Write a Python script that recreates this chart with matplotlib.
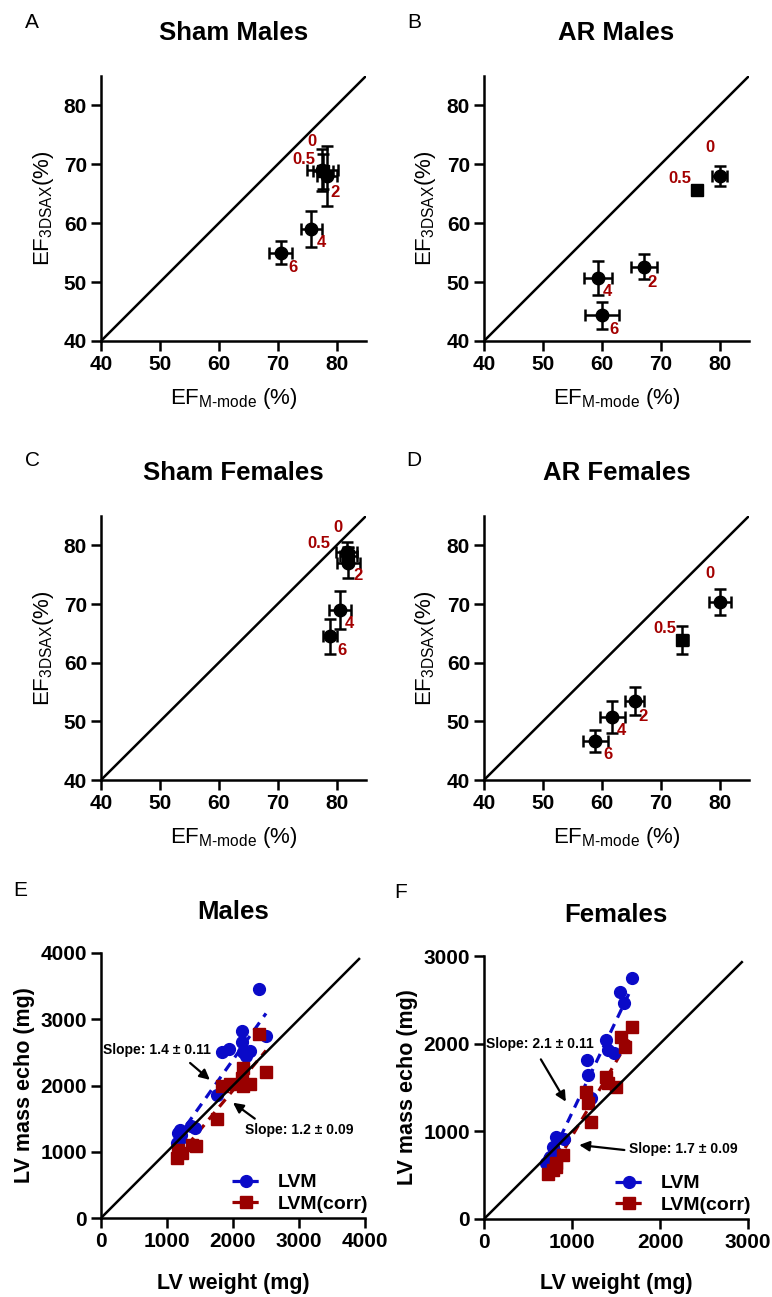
import numpy as np
import matplotlib.pyplot as plt
from matplotlib.lines import Line2D

plt.rcParams['font.family'] = ['Liberation Sans', 'DejaVu Sans']
plt.rcParams['mathtext.fontset'] = 'custom'
plt.rcParams['mathtext.rm'] = 'Liberation Sans'
plt.rcParams['mathtext.it'] = 'Liberation Sans:italic'
plt.rcParams['mathtext.bf'] = 'Liberation Sans:bold'

# ---- EF panels (A-D): time points, EF M-mode (x) vs EF 3DSAX (y), mean +/- SEM
time_labels = ['0', '0.5', '2', '4', '6']
time_markers = ['o', 's', 'o', 'o', 'o']

sham_m_x = [77.6, 77.7, 78.3, 75.7, 70.5]
sham_m_xerr = [2.6, 1.7, 1.7, 1.8, 2.0]
sham_m_y = [69.0, 68.8, 68.0, 59.0, 55.0]
sham_m_yerr = [3.6, 3.0, 5.1, 3.0, 1.9]

ar_m_x = [80.0, 76.2, 67.1, 59.4, 60.0]
ar_m_xerr = [1.2, 0.9, 2.2, 2.4, 2.9]
ar_m_y = [68.0, 65.6, 52.6, 50.7, 44.4]
ar_m_yerr = [1.7, 0.8, 2.1, 2.9, 2.3]

sham_f_x = [81.7, 82.0, 82.0, 80.6, 78.9]
sham_f_xerr = [1.8, 1.5, 2.0, 1.9, 1.2]
sham_f_y = [78.8, 78.2, 77.0, 69.0, 64.5]
sham_f_yerr = [1.8, 1.5, 2.5, 3.3, 3.0]

ar_f_x = [80.1, 73.7, 65.6, 61.8, 58.9]
ar_f_xerr = [1.9, 1.0, 1.6, 2.1, 2.1]
ar_f_y = [70.3, 63.9, 53.5, 50.7, 46.7]
ar_f_yerr = [2.2, 2.4, 2.4, 2.7, 1.9]

# ---- LV mass panels (E-F): LV weight (x) vs LV mass echo (y)
male_lvm_x = [1150, 1170, 1190, 1200, 1210, 1370, 1430, 1750, 1830, 1940,
              2130, 2140, 2150, 2190, 2260, 2390, 2500]
male_lvm_y = [1130, 1280, 1330, 1200, 1250, 1390, 1360, 1860, 2510, 2550,
              2820, 2650, 2500, 2450, 2520, 3460, 2740]
male_corr_x = [1150, 1170, 1220, 1380, 1440, 1750, 1840, 1950, 2150, 2150,
               2140, 2260, 2400, 2500]
male_corr_y = [910, 1020, 980, 1100, 1090, 1490, 2000, 2030, 2260, 1990,
               2120, 2030, 2770, 2200]

female_lvm_x = [703, 740, 745, 779, 817, 817, 911, 1170, 1178, 1215,
                1386, 1405, 1481, 1550, 1595, 1680]
female_lvm_y = [635, 680, 710, 825, 749, 938, 909, 1813, 1642, 1383,
                2040, 1927, 1889, 2590, 2460, 2745]
female_corr_x = [729, 779, 817, 817, 893, 1158, 1178, 1215, 1386, 1405,
                 1500, 1557, 1603, 1679]
female_corr_y = [513, 560, 597, 635, 730, 1452, 1319, 1110, 1623, 1547,
                 1509, 2079, 1965, 2193]

slopes_male = [1.4, 1.2]
slope_err_male = [0.11, 0.09]
slopes_female = [2.1, 1.7]
slope_err_female = [0.11, 0.09]

W, H = 772, 1297
fig = plt.figure(figsize=(W / 100, H / 100), dpi=100)

def px_axes(left, top, right, bottom):
    return fig.add_axes([left / W, 1 - bottom / H, (right - left) / W, (bottom - top) / H])

def ftext(x, y, s, **kw):
    fig.text(x / W, 1 - y / H, s, **kw)

def style(ax):
    for s in ['top', 'right']:
        ax.spines[s].set_visible(False)
    for s in ['left', 'bottom']:
        ax.spines[s].set_linewidth(1.8)
    ax.tick_params(direction='out', length=7, width=1.8, labelsize=15, pad=3)
    for lab in ax.get_xticklabels() + ax.get_yticklabels():
        lab.set_fontweight('bold')

label_red = '#a30000'

def ef_panel(box, x, xerr, y, yerr, offsets, title, letter, letter_xy):
    ax = px_axes(*box)
    ax.plot([40, 85], [40, 85], color='black', lw=1.8, zorder=1)
    for i in range(len(x)):
        ax.errorbar(x[i], y[i], xerr=xerr[i], yerr=yerr[i], fmt=time_markers[i],
                    color='black', ms=9 if time_markers[i] == 'o' else 8,
                    elinewidth=1.8, capsize=4, capthick=1.8, zorder=3)
        ax.text(x[i] + offsets[i][0], y[i] + offsets[i][1], time_labels[i],
                color=label_red, fontsize=12, fontweight='bold',
                ha='center', va='center', zorder=4)
    ax.set_xlim(40, 85)
    ax.set_ylim(40, 85)
    ax.set_xticks([40, 50, 60, 70, 80])
    ax.set_yticks([40, 50, 60, 70, 80])
    style(ax)
    left, top, right, bottom = box
    cx = (left + right) / 2
    ftext(cx, top - 43, title, fontsize=18.5, fontweight='bold', ha='center', va='center')
    ftext(cx, bottom + 58, r'EF$_{\text{M-mode}}$ (%)', fontsize=16, ha='center', va='center')
    ftext(left - 58, (top + bottom) / 2, r'EF$_{\mathregular{3DSAX}}$(%)', fontsize=16,
          rotation=90, ha='center', va='center')
    ftext(letter_xy[0], letter_xy[1], letter, fontsize=15, ha='center', va='center')
    return ax

off_std = [(-1.7, 4.9), (-3.0, 2.0), (1.4, -2.7), (1.6, -2.3), (2.1, -2.4)]
off_a = [(-1.8, 4.9), (-3.2, 2.1), (1.5, -2.8), (1.7, -2.3), (2.1, -2.5)]
off_c = [(-1.5, 4.2), (-5.0, 2.1), (1.6, -2.2), (1.5, -2.3), (1.95, -2.4)]

ef_panel((101, 76, 366, 341), sham_m_x, sham_m_xerr, sham_m_y, sham_m_yerr,
         off_a, 'Sham Males', 'A', (32, 23))
ef_panel((484, 76, 749, 341), ar_m_x, ar_m_xerr, ar_m_y, ar_m_yerr,
         off_std, 'AR Males', 'B', (414, 23))
ef_panel((101, 516, 366, 780), sham_f_x, sham_f_xerr, sham_f_y, sham_f_yerr,
         off_c, 'Sham Females', 'C', (32, 461))
ef_panel((484, 516, 749, 780), ar_f_x, ar_f_xerr, ar_f_y, ar_f_yerr,
         off_std, 'AR Females', 'D', (414, 461))

blue = '#0a0ac8'
dred = '#990000'
dash = (0, (3, 2.2))

def fit_line(ax, x, y, slope, color):
    x = np.asarray(x, float)
    y = np.asarray(y, float)
    xs = np.array([x.min(), x.max()])
    ys = y.mean() + slope * (xs - x.mean())
    ax.plot(xs, ys, ls=dash, color=color, lw=2.3, zorder=2)

def mass_panel(box, lvm_x, lvm_y, corr_x, corr_y, slopes, errs, lim, ident_end,
               title, letter, letter_xy, ann):
    ax = px_axes(*box)
    fit_line(ax, lvm_x, lvm_y, slopes[0], blue)
    fit_line(ax, corr_x, corr_y, slopes[1], dred)
    ax.plot(lvm_x, lvm_y, 'o', color=blue, ms=8.5, zorder=3)
    ax.plot(corr_x, corr_y, 's', color=dred, ms=8, zorder=3)
    ax.plot([0, ident_end], [0, ident_end], color='black', lw=1.8, zorder=4)
    ticks = np.arange(0, lim + 1, 1000)
    ax.set_xlim(0, lim)
    ax.set_ylim(0, lim)
    ax.set_xticks(ticks)
    ax.set_yticks(ticks)
    style(ax)
    for i in range(2):
        txt, tail, tip = ann[i]
        ax.text(txt[0], txt[1], f'Slope: {slopes[i]} \u00b1 {errs[i]:.2f}',
                fontsize=10, fontweight='bold', ha='left', va='center', zorder=5)
        ax.annotate('', xy=tip, xytext=tail,
                    arrowprops=dict(arrowstyle='-|>,head_length=0.6,head_width=0.3',
                                    color='black', lw=1.6, shrinkA=0, shrinkB=0))
    handles = [Line2D([], [], color=blue, ls=dash, lw=2.3, marker='o', ms=8.5),
               Line2D([], [], color=dred, ls=dash, lw=2.3, marker='s', ms=8)]
    ax.legend(handles, ['LVM', 'LVM(corr)'], loc='lower right', frameon=False,
              prop={'weight': 'bold', 'size': 14}, handlelength=1.45,
              handletextpad=0.9, labelspacing=0.2, borderaxespad=0.0,
              bbox_to_anchor=(1.04, -0.01))
    left, top, right, bottom = box
    cx = (left + right) / 2
    ftext(cx, top - 41, title, fontsize=18.5, fontweight='bold', ha='center', va='center')
    ftext(cx, bottom + 65, 'LV weight (mg)', fontsize=15.5, fontweight='bold',
          ha='center', va='center')
    ftext(left - 76, (top + bottom) / 2, 'LV mass echo (mg)', fontsize=15.5,
          fontweight='bold', rotation=90, ha='center', va='center')
    ftext(letter_xy[0], letter_xy[1], letter, fontsize=15, ha='center', va='center')
    return ax

ann_m = [((30, 2540), (1350, 2340), (1650, 2085)),
         ((2180, 1330), (2330, 1500), (2000, 1740))]
ann_f = [((20, 1995), (646, 1821), (930, 1338)),
         ((1650, 795), (1595, 787), (1082, 844))]

mass_panel((101, 953, 365, 1218), male_lvm_x, male_lvm_y, male_corr_x, male_corr_y,
           slopes_male, slope_err_male, 4000, 3910, 'Males', 'E', (20, 890), ann_m)
mass_panel((484, 956, 748, 1219), female_lvm_x, female_lvm_y, female_corr_x, female_corr_y,
           slopes_female, slope_err_female, 3000, 2930, 'Females', 'F', (401, 892), ann_f)

fig.savefig('out.png', dpi=100)
